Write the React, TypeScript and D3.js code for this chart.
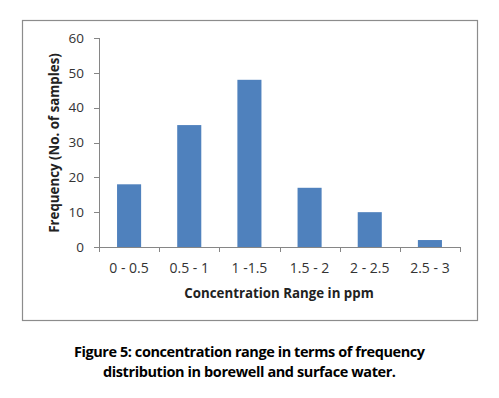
import React from "react";
import * as d3 from "d3";

const categories = ["0 - 0.5", "0.5 - 1", "1 -1.5", "1.5 - 2", "2 - 2.5", "2.5 - 3"];
const frequency = [18, 35, 48, 17, 10, 2];
const yTicks = [0, 10, 20, 30, 40, 50, 60];
const captionLines = [
  "Figure 5: concentration range in terms of frequency",
  "distribution in borewell and surface water.",
];
const captionWidths = [351, 293];

const W = 499;
const H = 398;
const font = "'Open Sans', 'Noto Sans', sans-serif";

const App = () => {
  // plot area
  const left = 99, right = 460, top = 38, bottom = 247;

  const x = d3.scaleBand().domain(categories).range([left, right]).paddingInner(0.6).paddingOuter(0.3);
  const xCat = d3.scaleBand().domain(categories).range([left, right]);
  const y = d3.scaleLinear().domain([0, 60]).range([bottom, top]);

  const axisColor = "#868686";

  return (
    <svg width={W} height={H} style={{ position: "absolute", left: 0, top: 0, background: "#fff" }}>
      <rect x={22.5} y={20.5} width={455} height={300} fill="#fff" stroke="#8c8c8c" strokeWidth={1.2} />

      {/* y axis */}
      <line x1={left + 0.5} x2={left + 0.5} y1={top} y2={bottom} stroke={axisColor} />
      {yTicks.map((t) => (
        <g key={t}>
          <line x1={left - 5} x2={left} y1={Math.round(y(t)) + 0.5} y2={Math.round(y(t)) + 0.5} stroke={axisColor} />
          <text x={84} y={y(t)} dy="0.35em" textAnchor="end" fontFamily={font} fontSize={13.5} fill="#333">
            {t}
          </text>
        </g>
      ))}

      {/* bars */}
      {categories.map((c, i) => (
        <rect key={c} x={x(c)} y={y(frequency[i])} width={x.bandwidth()} height={bottom - y(frequency[i])} fill="#4f81bd" />
      ))}

      {/* x axis */}
      <line x1={left} x2={right} y1={bottom + 0.5} y2={bottom + 0.5} stroke={axisColor} />
      {[...categories.map((c) => xCat(c) as number), right].map((v, i) => (
        <line key={i} x1={Math.round(v) + 0.5} x2={Math.round(v) + 0.5} y1={bottom} y2={bottom + 5} stroke={axisColor} />
      ))}
      {categories.map((c) => (
        <text key={c} x={(xCat(c) as number) + xCat.bandwidth() / 2} y={268} dy="0.35em" textAnchor="middle" fontFamily={font} fontSize={14} fill="#333">
          {c}
        </text>
      ))}

      {/* axis titles */}
      <text x={279} y={293} dy="0.35em" textAnchor="middle" fontFamily={font} fontSize={13.3} fontWeight="bold" fill="#222">
        Concentration Range in ppm
      </text>
      <text transform="translate(54,143) rotate(-90)" dy="0.35em" textAnchor="middle" fontFamily={font} fontSize={13.3} fontWeight="bold" fill="#222">
        Frequency (No. of samples)
      </text>

      {/* caption */}
      {captionLines.map((l, i) => (
        <text key={i} x={249.5} y={352 + i * 20} dy="0.35em" textAnchor="middle" fontFamily={font} fontSize={14.5} fontWeight="bold" fill="#000"
          textLength={captionWidths[i]} lengthAdjust="spacing">
          {l}
        </text>
      ))}
    </svg>
  );
};

export default App;
